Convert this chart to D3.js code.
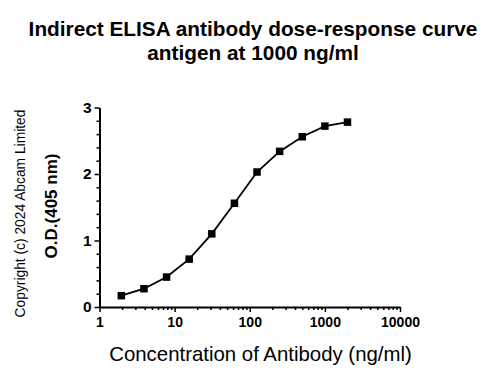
<!DOCTYPE html>
<html><head><meta charset="utf-8">
<script src="https://cdn.jsdelivr.net/npm/d3@7"></script>
<style>
html,body{margin:0;padding:0;background:#fff;}
svg{display:block;font-family:"Liberation Sans",Arial,sans-serif;}
</style></head>
<body><svg id="c" width="492" height="379"></svg>
<script>
const concentrations = [1.953125, 3.90625, 7.8125, 15.625, 31.25, 62.5, 125, 250, 500, 1000, 2000];
const odValues = [0.17, 0.275, 0.45, 0.72, 1.10, 1.56, 2.03, 2.34, 2.56, 2.72, 2.78];
const xTicks = [1, 10, 100, 1000, 10000];
const yTicks = [0, 1, 2, 3];
const titleLines = ["Indirect ELISA antibody dose-response curve", "antigen at 1000 ng/ml"];

const svg = d3.select("#c");
const x = d3.scaleLog().domain([1, 10000]).range([99.5, 400]);
const y = d3.scaleLinear().domain([0, 3]).range([307, 107.5]);

// title
svg.append("g").selectAll("text").data(titleLines).join("text")
  .attr("x", 253).attr("y", (d,i)=>35.5 + i*24)
  .attr("text-anchor","middle").attr("font-weight","bold").attr("font-size",20.8)
  .attr("fill","#000").text(d=>d);

// minor ticks
const xMinor = [];
for (let e=0;e<4;e++) for (let m=2;m<=9;m++) xMinor.push(m*Math.pow(10,e));
const yMinor = d3.range(0, 3.001, 0.2).filter(v => Math.abs(v - Math.round(v)) > 1e-6);

const gx = svg.append("g").attr("transform","translate(0,307)");
gx.call(d3.axisBottom(x).tickValues(xTicks).tickFormat(d3.format("d")).tickSize(5).tickSizeOuter(0));
gx.append("g").call(d3.axisBottom(x).tickValues(xMinor).tickFormat("").tickSize(3).tickSizeOuter(0))
  .select(".domain").remove();
gx.selectAll("line").attr("stroke","#000").attr("stroke-width",1.5);
gx.select(".domain").attr("stroke","#000").attr("stroke-width",2);
gx.selectAll("text").attr("font-size",14).attr("font-weight","bold").attr("fill","#000").attr("dy","0.85em")
  .attr("font-family","'Liberation Sans',Arial,sans-serif");

const gy = svg.append("g").attr("transform","translate(99.5,0)");
gy.call(d3.axisLeft(y).tickValues(yTicks).tickFormat(d3.format("d")).tickSize(5).tickSizeOuter(0));
gy.append("g").call(d3.axisLeft(y).tickValues(yMinor).tickFormat("").tickSize(3).tickSizeOuter(0))
  .select(".domain").remove();
gy.selectAll("line").attr("stroke","#000").attr("stroke-width",1.5);
gy.select(".domain").attr("stroke","#000").attr("stroke-width",2);
gy.selectAll("text").attr("font-size",15.5).attr("font-weight","bold").attr("fill","#000")
  .attr("font-family","'Liberation Sans',Arial,sans-serif");

// line
const pts = concentrations.map((c,i)=>[c, odValues[i]]);
svg.append("path").datum(pts)
  .attr("d", d3.line().x(d=>x(d[0])).y(d=>y(d[1])))
  .attr("fill","none").attr("stroke","#000").attr("stroke-width",1.8);
svg.append("g").selectAll("rect").data(pts).join("rect")
  .attr("x", d=>x(d[0])-3.75).attr("y", d=>y(d[1])-3.75)
  .attr("width",7.5).attr("height",7.5).attr("fill","#000");

// axis labels
svg.append("text").attr("x", 260.5).attr("y", 361).attr("text-anchor","middle")
  .attr("font-size",20.4).attr("fill","#000").text("Concentration of Antibody (ng/ml)");
svg.append("text").attr("transform","translate(57,206) rotate(-90)").attr("text-anchor","middle")
  .attr("font-size",17).attr("font-weight","bold").attr("fill","#000").text("O.D.(405 nm)");
svg.append("text").attr("transform","translate(25,213.5) rotate(-90)").attr("text-anchor","middle")
  .attr("font-size",13.8).attr("fill","#000").text("Copyright (c) 2024 Abcam Limited");
</script></body></html>
